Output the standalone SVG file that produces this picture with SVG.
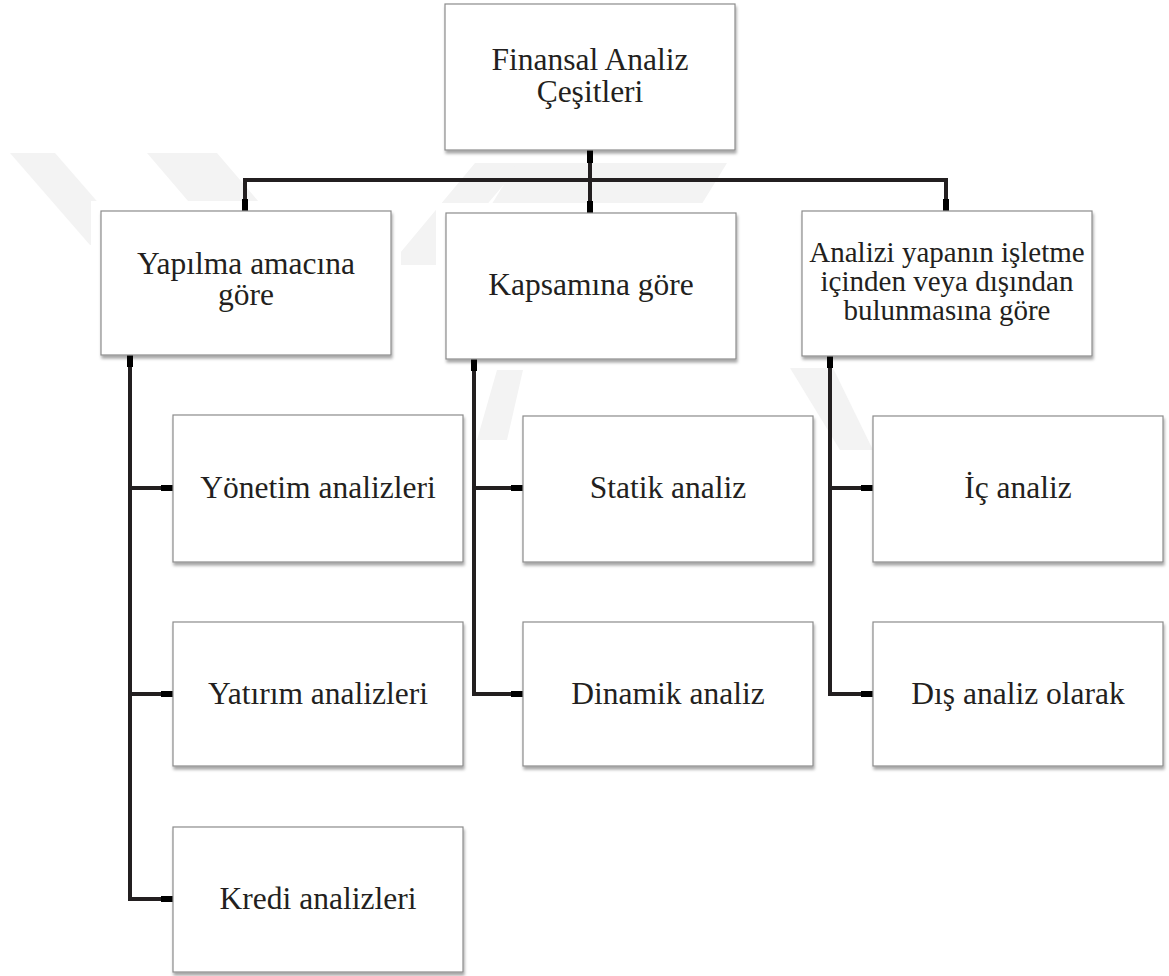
<svg xmlns="http://www.w3.org/2000/svg" width="1169" height="976" viewBox="0 0 1169 976">
<defs>
<filter id="sh" x="-10%" y="-10%" width="125%" height="130%">
<feDropShadow dx="1" dy="3" stdDeviation="1.8" flood-color="#000" flood-opacity="0.35"/>
</filter>
<style>
.box{fill:#fff;stroke:#8c8c8c;stroke-width:1.2;filter:url(#sh)}
.t{font-family:'Liberation Serif','DejaVu Serif',serif;font-size:31.5px;fill:#231f20;text-anchor:middle}
.t2{font-size:29px}
.ln{fill:none;stroke:#231f20;stroke-width:4;stroke-linejoin:miter;stroke-linecap:butt}
.stub{fill:none;stroke:#000;stroke-width:6;stroke-linecap:butt}
.wm{fill:#f3f3f3}
.halo{fill:#fff}
</style>
</defs>
<rect width="1169" height="976" fill="#fff"/>
<g id="watermark">
<polygon class="wm" points="10,153 55,153 135,245 90,245"/>
<polygon class="wm" points="147,153 217,153 270,215 200,215"/>
<polygon class="wm" points="475,163 522,163 436,265 390,265"/>
<polygon class="wm" points="517,163 727,163 700,207 490,207"/>
<polygon class="wm" points="790,368 833,368 873,450 840,450"/>
<polygon class="wm" points="497,370 523,370 507,440 477,440"/>
</g>
<g id="halos">
<rect class="halo" x="91" y="201" width="310" height="164"/>
<rect class="halo" x="436" y="203" width="310" height="166"/>
<rect class="halo" x="792" y="201" width="310" height="165"/>
<rect class="halo" x="435" y="-6" width="310" height="166"/>
</g>
<g id="connectors">
<path class="ln" d="M590,150 V213"/>
<path class="ln" d="M245,211 V180 H946 V211"/>
<path class="ln" d="M130,355 V899 H173 M130,488 H173 M130,694 H173"/>
<path class="ln" d="M474,359 V694 H523 M474,488 H523"/>
<path class="ln" d="M830,356 V694 H873 M830,488 H873"/>
<path class="stub" d="M590,150 V163 M590,201 V213 M245,199 V211 M946,199 V211 M130,355 V367 M474,359 V371 M830,356 V368 M161,488 H173 M161,694 H173 M161,899 H173 M511,488 H523 M511,694 H523 M861,488 H873 M861,694 H873"/>
</g>
<g id="root">
<rect class="box" x="445" y="4" width="290" height="146"/>
<text class="t" x="590" y="70">Finansal Analiz</text>
<text class="t" x="590" y="102">Çeşitleri</text>
</g>
<g id="n-amac">
<rect class="box" x="101" y="211" width="290" height="144"/>
<text class="t" x="246" y="274">Yapılma amacına</text>
<text class="t" x="246" y="305">göre</text>
</g>
<g id="n-kapsam">
<rect class="box" x="446" y="213" width="290" height="146"/>
<text class="t" x="591" y="295">Kapsamına göre</text>
</g>
<g id="n-icdis">
<rect class="box" x="802" y="211" width="290" height="145"/>
<text class="t t2" x="947" y="262">Analizi yapanın işletme</text>
<text class="t t2" x="947" y="291">içinden veya dışından</text>
<text class="t t2" x="947" y="320">bulunmasına göre</text>
</g>
<g id="n-yonetim">
<rect class="box" x="173" y="415" width="290" height="147"/>
<text class="t" x="318" y="498">Yönetim analizleri</text>
</g>
<g id="n-yatirim">
<rect class="box" x="173" y="622" width="290" height="144"/>
<text class="t" x="318" y="704">Yatırım analizleri</text>
</g>
<g id="n-kredi">
<rect class="box" x="173" y="827" width="290" height="145"/>
<text class="t" x="318" y="909">Kredi analizleri</text>
</g>
<g id="n-statik">
<rect class="box" x="523" y="416" width="290" height="146"/>
<text class="t" x="668" y="498">Statik analiz</text>
</g>
<g id="n-dinamik">
<rect class="box" x="523" y="622" width="290" height="144"/>
<text class="t" x="668" y="704">Dinamik analiz</text>
</g>
<g id="n-ic">
<rect class="box" x="873" y="416" width="290" height="146"/>
<text class="t" x="1018" y="498">İç analiz</text>
</g>
<g id="n-dis">
<rect class="box" x="873" y="622" width="290" height="144"/>
<text class="t" x="1018" y="704">Dış analiz olarak</text>
</g>
</svg>
